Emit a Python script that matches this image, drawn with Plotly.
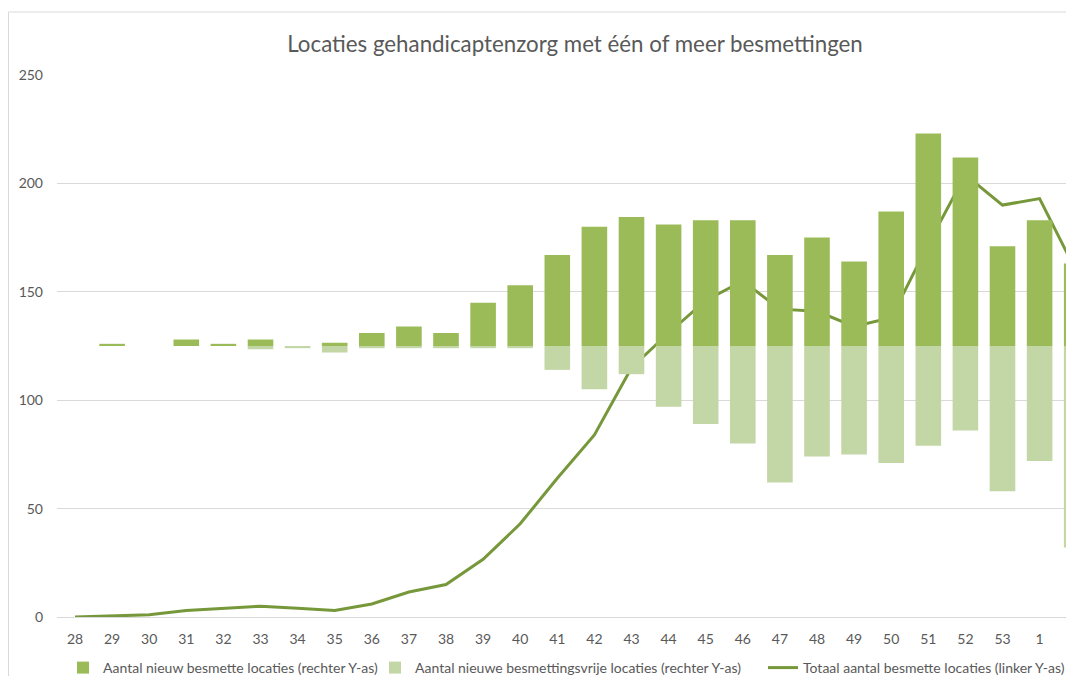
import plotly.graph_objects as go

weeks = ["28", "29", "30", "31", "32", "33", "34", "35", "36", "37", "38", "39", "40",
         "41", "42", "43", "44", "45", "46", "47", "48", "49", "50", "51", "52", "53", "1", "2"]

# Right Y-axis series (bars, around the right-axis zero)
nieuw_besmet = [0, 1, 0, 3, 1, 3, 0, 1.5, 6, 9, 6, 20, 28,
                42, 55, 59.5, 56, 58, 58, 42, 50, 39, 62, 98, 87, 46, 58, 38]
besmettingsvrij = [0, 0, 0, 0, 0, -1.5, -1, -3, -1, -1, -1, -1, -1,
                   -11, -20, -13, -28, -36, -45, -63, -51, -50, -54, -46, -39, -67, -53, -93]

# Left Y-axis series (line)
totaal = [0, 0.5, 1, 3, 4, 5, 4, 3, 6, 11.5, 15, 26.6, 43,
          64, 84, 115, 131, 146, 155, 142, 141, 134, 138, 172, 204, 190, 193, 159]

title_text = "Locaties gehandicaptenzorg met één of meer besmettingen"
name_nieuw = "Aantal nieuw besmette locaties (rechter Y-as)"
name_vrij = "Aantal nieuwe besmettingsvrije locaties (rechter Y-as)"
name_totaal = "Totaal aantal besmette locaties (linker Y-as)"

DARK = "#9BBB59"
LIGHT = "#C3D6A6"
LINE = "#76983A"
GRID = "#D9D9D9"
TXT = "#595959"
FONT = "Lato"

fig = go.Figure()
fig.add_trace(go.Bar(x=weeks, y=nieuw_besmet, name=name_nieuw, marker_color=DARK,
                     marker_line_width=0, yaxis="y2", legend="legend"))
fig.add_trace(go.Bar(x=weeks, y=besmettingsvrij, name=name_vrij, marker_color=LIGHT,
                     marker_line_width=0, yaxis="y2", legend="legend2"))
fig.add_trace(go.Scatter(x=weeks, y=totaal, name=name_totaal, mode="lines",
                         line=dict(color=LINE, width=3), yaxis="y", legend="legend3"))

# page is drawn with an 8px body offset; coordinates below are figure pixels
OFF = 8
W, H = 1074 - OFF, 692 - 3 * OFF
L, R, T = 57 - OFF, 0, 75 - OFF
B = H - (617 - OFF)
pw, ph = W - L - R, H - T - B

def px_x(p):
    return (p - OFF - L) / pw

def px_y(p):
    return (H - B - (p - OFF)) / ph

step = 37.1
x0 = -(75 - 57) / step
x1 = x0 + pw / step

legend_common = dict(orientation="h", yanchor="middle", y=px_y(668), xanchor="left",
                     font=dict(family=FONT, size=14, color=TXT), bgcolor="rgba(0,0,0,0)",
                     borderwidth=0, itemwidth=30)

fig.update_layout(
    width=W, height=H,
    margin=dict(l=L, r=R, t=T, b=B, autoexpand=False),
    paper_bgcolor="white", plot_bgcolor="white",
    barmode="relative", bargap=0.31,
    font=dict(family=FONT, size=14, color=TXT),
    title=dict(text=title_text, x=px_x(575), xref="paper", xanchor="center",
               y=1 - (44 - OFF) / H, yref="container", yanchor="middle",
               font=dict(family=FONT, size=22.3, color=TXT)),
    xaxis=dict(type="category", range=[x0, x1], showgrid=False, showline=True,
               linecolor=GRID, linewidth=1, ticks="", ticklabelstandoff=9,
               tickfont=dict(family=FONT, size=14, color=TXT), fixedrange=True),
    yaxis=dict(range=[0, 250], dtick=50, showgrid=True, gridcolor=GRID, gridwidth=1,
               zeroline=False, showline=False, ticks="", ticklabelstandoff=13,
               tickfont=dict(family=FONT, size=14, color=TXT)),
    yaxis2=dict(range=[-125, 125], overlaying="y", side="right", showgrid=False,
                zeroline=False, showticklabels=False, showline=False),
    legend=dict(x=px_x(63), **legend_common),
    legend2=dict(x=px_x(375), **legend_common),
    legend3=dict(x=px_x(763), **legend_common),
    shapes=[dict(type="rect", xref="paper", yref="paper",
                 x0=px_x(8.5), x1=1.05, y0=-0.3, y1=px_y(12),
                 line=dict(color="#D9D9D9", width=1), fillcolor="rgba(0,0,0,0)", layer="below")],
    showlegend=True,
)

fig.write_html("out.html")
